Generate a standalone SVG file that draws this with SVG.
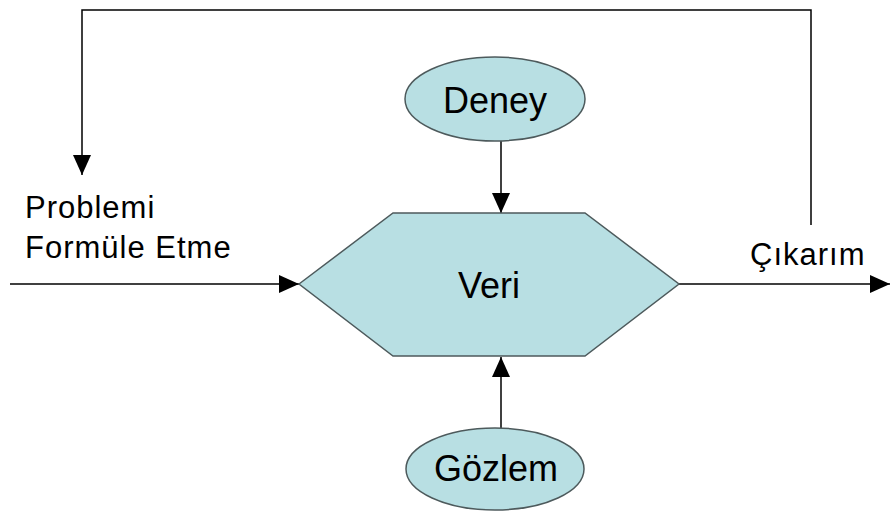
<svg xmlns="http://www.w3.org/2000/svg" width="890" height="512" viewBox="0 0 890 512">
  <style>
    .node { fill: #b8dfe3; stroke: #4d5a5c; stroke-width: 1.5; }
    .conn { fill: none; stroke: #000; stroke-width: 1.5; }
    .lbl { font-family: "Liberation Sans", Arial, sans-serif; fill: #000; }
    .big { font-size: 36px; }
    .side { font-size: 31px; letter-spacing: 1px; }
  </style>
  <defs>
    <marker id="arrow" viewBox="0 0 20 18" refX="20" refY="9" markerWidth="20" markerHeight="18" markerUnits="userSpaceOnUse" orient="auto">
      <path d="M0,0 L20,9 L0,18 z" fill="#000"/>
    </marker>
  </defs>
  <rect width="890" height="512" fill="#fff"/>

  <g id="connectors">
    <path class="conn" d="M811,225 V10 H82 V175" marker-end="url(#arrow)"/>
    <path class="conn" d="M10,284 H299" marker-end="url(#arrow)"/>
    <path class="conn" d="M679,284 H890" marker-end="url(#arrow)"/>
    <path class="conn" d="M501,141 V213" marker-end="url(#arrow)"/>
    <path class="conn" d="M501,428 V357" marker-end="url(#arrow)"/>
  </g>

  <g id="veri">
    <polygon class="node" points="299,284 393,213 585,213 679,284 585,356 393,356"/>
    <text class="lbl big" x="489" y="298" text-anchor="middle">Veri</text>
  </g>

  <g id="deney">
    <ellipse class="node" cx="495" cy="99" rx="90" ry="42"/>
    <text class="lbl big" x="495" y="113" text-anchor="middle">Deney</text>
  </g>

  <g id="gozlem">
    <ellipse class="node" cx="495" cy="469" rx="89" ry="41"/>
    <text class="lbl big" x="496" y="481" text-anchor="middle">Gözlem</text>
  </g>

  <g id="label-problem">
    <text class="lbl side" x="25" y="218">Problemi</text>
    <text class="lbl side" x="25" y="258">Formüle Etme</text>
  </g>

  <g id="label-cikarim">
    <text class="lbl side" x="750" y="265">Çıkarım</text>
  </g>
</svg>
